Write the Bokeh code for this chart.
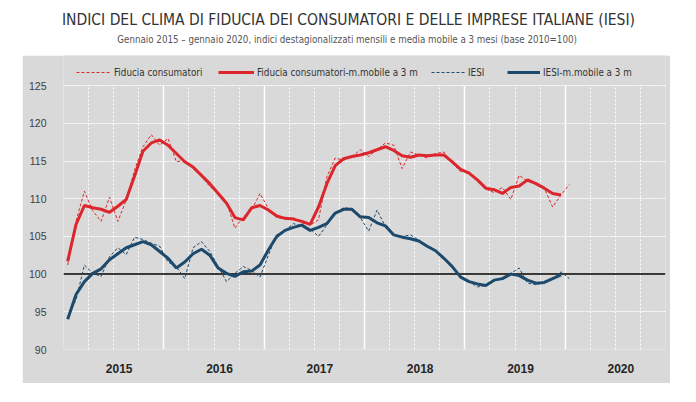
from bokeh.plotting import figure
from bokeh.layouts import column, row
from bokeh.models import (Range1d, FixedTicker, Grid, BoxAnnotation, Label, Legend, LegendItem,
                          Span, Spacer)
from bokeh.embed import file_html
from bokeh.resources import INLINE

# ---------------- data (Jan 2015 ... Jan 2020, monthly) ----------------
start_year = 2015
fiducia = [101.2, 107.0, 111.0, 108.4, 107.0, 110.2, 107.0, 109.8, 113.8, 116.9, 118.5, 117.1,
           118.0, 114.9, 115.1, 114.0, 113.0, 111.6, 110.9, 109.6, 106.1, 107.6, 108.5, 110.7,
           108.7, 107.5, 107.3, 107.5, 106.8, 106.5, 107.2, 112.9, 115.4, 115.1, 115.6, 116.5,
           115.6, 116.5, 117.4, 117.1, 114.0, 116.2, 115.8, 115.4, 116.0, 116.2, 114.7, 113.6,
           113.6, 112.5, 111.3, 110.8, 111.5, 109.9, 113.1, 112.3, 112.0, 111.4, 108.9, 110.5,
           111.9]
fiducia_mm = [101.7, 106.6, 109.1, 108.8, 108.6, 108.2, 109.0, 109.9, 113.0, 116.3, 117.4, 117.8,
              117.1, 116.0, 114.9, 114.2, 113.1, 112.0, 110.7, 109.4, 107.5, 107.2, 108.8, 109.1,
              108.5, 107.7, 107.4, 107.3, 107.0, 106.6, 108.9, 112.0, 114.4, 115.3, 115.6, 115.8,
              116.1, 116.5, 116.9, 116.4, 115.7, 115.5, 115.8, 115.7, 115.8, 115.8, 114.9, 113.9,
              113.4, 112.5, 111.4, 111.2, 110.7, 111.5, 111.7, 112.5, 112.0, 111.4, 110.7, 110.5]
iesi = [94.3, 96.6, 101.2, 100.1, 99.7, 102.3, 103.5, 102.6, 104.9, 104.6, 104.1, 103.7,
        101.6, 101.0, 99.4, 103.5, 104.3, 103.0, 101.0, 99.0, 100.1, 101.0, 100.5, 99.6,
        102.5, 105.2, 105.8, 106.7, 106.4, 106.0, 105.0, 106.5, 108.1, 108.8, 108.7, 107.5,
        105.7, 108.5, 106.3, 105.2, 105.0, 105.2, 104.5, 103.7, 103.0, 102.1, 101.0, 99.6,
        99.0, 98.3, 98.5, 99.2, 99.5, 100.1, 100.8, 98.8, 98.6, 98.9, 99.3, 100.3,
        99.4]
iesi_mm = [94.0, 97.3, 99.0, 100.1, 100.7, 101.9, 102.7, 103.5, 103.9, 104.3, 103.9, 103.0,
           102.1, 100.8, 101.6, 102.7, 103.3, 102.5, 100.8, 100.1, 99.7, 100.3, 100.4, 101.2,
           103.2, 105.0, 105.8, 106.2, 106.5, 105.8, 106.2, 106.7, 108.1, 108.6, 108.6, 107.6,
           107.5, 106.8, 106.4, 105.2, 104.9, 104.7, 104.4, 103.7, 103.1, 102.1, 101.0, 99.6,
           99.0, 98.7, 98.5, 99.2, 99.4, 100.0, 99.8, 99.2, 98.8, 98.9, 99.4, 99.9]
years = [2015, 2016, 2017, 2018, 2019, 2020]
year_labels = ["2015", "2016", "2017", "2018", "2019", "2020"]
y_ticks = [90, 95, 100, 105, 110, 115, 120, 125]

series_labels = ["Fiducia consumatori", "Fiducia consumatori-m.mobile a 3 m",
                 "IESI", "IESI-m.mobile a 3 m"]
title_text = "INDICI DEL CLIMA DI FIDUCIA DEI CONSUMATORI E DELLE IMPRESE ITALIANE (IESI)"
subtitle_text = ("Gennaio 2015 \u2013 gennaio  2020, indici destagionalizzati mensili e media mobile "
                 "a 3 mesi (base 2010=100)")

# ---------------- styling ----------------
RED = "#dc262d"
BLUE = "#1d4a6c"
GRAY = "#d9d9d9"
FONT_C = "DejaVu Sans Condensed"
FONT = "Liberation Sans"

def month_pos(i):
    return start_year + (i + 0.5) / 12.0

x_f = [month_pos(i) for i in range(len(fiducia))]
x_fm = [month_pos(i) for i in range(len(fiducia_mm))]
x_i = [month_pos(i) for i in range(len(iesi))]
x_im = [month_pos(i) for i in range(len(iesi_mm))]

# ---------------- title strip ----------------
TW, TH = 696, 55
t = figure(width=TW, height=TH, x_range=Range1d(0, 1), y_range=Range1d(0, 1),
           output_backend="svg", toolbar_location=None, x_axis_type=None, y_axis_type=None,
           min_border=0)
t.outline_line_color = None
t.background_fill_color = "white"
t.border_fill_color = "white"
t.xgrid.visible = False
t.ygrid.visible = False
t.add_layout(Label(x=348, y=TH - 19, x_units="screen", y_units="screen", text=title_text,
                   text_align="center", text_baseline="middle", text_font=FONT_C,
                   text_font_size="15.5px", text_color="#333333"))
t.add_layout(Label(x=348, y=TH - 39, x_units="screen", y_units="screen", text=subtitle_text,
                   text_align="center", text_baseline="middle", text_font=FONT_C,
                   text_font_size="9.7px", text_color="#555555"))

# ---------------- main chart (gray panel) ----------------
PW, PH = 648, 328
ML, MR, MT, MB = 41, 5, 0, 34
p = figure(width=PW, height=PH, x_range=Range1d(years[0], years[-1] + 1), y_range=Range1d(90, 129),
           output_backend="svg", toolbar_location=None,
           min_border_left=ML, min_border_right=MR, min_border_top=MT, min_border_bottom=MB)
p.border_fill_color = GRAY
p.background_fill_color = GRAY
p.outline_line_color = None

# vertical grids
year_lines = years + [years[-1] + 1]
quarter_lines = [y + q / 4.0 for y in years for q in (1, 2, 3)]
p.xgrid.ticker = FixedTicker(ticks=year_lines)
p.xgrid.grid_line_color = "white"
p.xgrid.grid_line_width = 1.5
p.add_layout(Grid(dimension=0, ticker=FixedTicker(ticks=quarter_lines), grid_line_color="white",
                  grid_line_width=1, grid_line_dash="2 2"))
# hide grid above the top tick (legend strip)
p.add_layout(BoxAnnotation(bottom=y_ticks[-1], fill_color=GRAY, fill_alpha=1.0, line_color=None,
                           level="underlay"))
# horizontal grid
p.ygrid.visible = False
p.add_layout(Grid(dimension=1, ticker=FixedTicker(ticks=y_ticks), grid_line_color="white",
                  grid_line_width=1, grid_line_dash="2 1"))
p.add_layout(Span(location=100, dimension="width", line_color="black", line_width=1.5,
                  level="underlay"))

# axes
p.yaxis.ticker = FixedTicker(ticks=y_ticks)
p.yaxis.major_tick_line_color = None
p.yaxis.minor_tick_line_color = None
p.yaxis.axis_line_color = None
p.yaxis.major_label_standoff = 11
p.yaxis.major_label_text_font = FONT
p.yaxis.major_label_text_font_size = "10.5px"
p.yaxis.major_label_text_color = "#404040"

label_ticks = [y + 0.555 for y in years]
p.xaxis.ticker = FixedTicker(ticks=label_ticks)
p.xaxis.major_label_overrides = {t_: lab for t_, lab in zip(label_ticks, year_labels)}
p.xaxis.major_tick_line_color = None
p.xaxis.minor_tick_line_color = None
p.xaxis.axis_line_color = None
p.xaxis.major_label_standoff = 8
p.xaxis.major_label_text_font = FONT
p.xaxis.major_label_text_font_size = "12px"
p.xaxis.major_label_text_font_style = "bold"
p.xaxis.major_label_text_color = "#262626"

# series
r1 = p.line(x_f, fiducia, line_color=RED, line_width=1, line_dash="3 2")
r2 = p.line(x_fm, fiducia_mm, line_color=RED, line_width=3)
r3 = p.line(x_i, iesi, line_color=BLUE, line_width=1, line_dash="3 2")
r4 = p.line(x_im, iesi_mm, line_color=BLUE, line_width=3)

# legends (one per item, inside the top strip of the frame)
FRAME_BOTTOM = 349  # page y of frame bottom
leg_vy = FRAME_BOTTOM - 82
for rend, lab, vx, gw in [(r1, series_labels[0], 76 - 63, 35),
                          (r2, series_labels[1], 218 - 63, 36),
                          (r3, series_labels[2], 431 - 63, 34),
                          (r4, series_labels[3], 507 - 63, 33)]:
    lg = Legend(items=[LegendItem(label=lab, renderers=[rend])], location=(vx, leg_vy),
                orientation="horizontal", padding=0, margin=0, spacing=0,
                glyph_width=gw, glyph_height=20, label_height=20, label_standoff=3,
                border_line_color=None, background_fill_alpha=0,
                label_text_font=FONT_C, label_text_font_size="9.8px", label_text_color="#333333")
    p.add_layout(lg)

layout = column(t, row(Spacer(width=22, height=PH), p, spacing=0), spacing=0)
open("out.html", "w").write(file_html(layout, INLINE))
